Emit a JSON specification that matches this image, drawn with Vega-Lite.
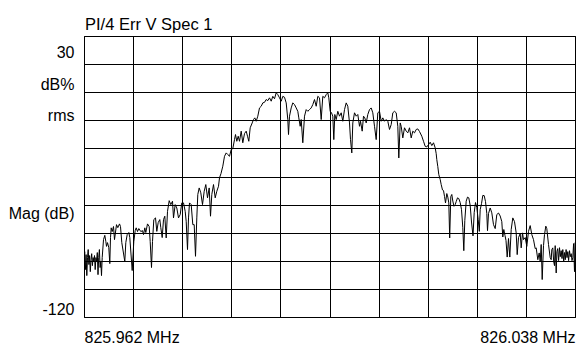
{
  "$schema": "https://vega.github.io/schema/vega-lite/v6.json",
  "width": 491,
  "height": 281,
  "autosize": {"type": "none"},
  "padding": {"left": 84, "top": 36, "right": 1, "bottom": 30},
  "background": "white",
  "title": {
    "text": "PI/4 Err V Spec 1",
    "anchor": "start",
    "frame": "group",
    "baseline": "alphabetic",
    "offset": 10,
    "dx": 1,
    "dy": 20,
    "font": "Liberation Sans, Arial, sans-serif",
    "fontSize": 16.5,
    "fontWeight": "normal",
    "color": "black"
  },
  "config": {
    "view": {"stroke": "black", "strokeWidth": 1},
    "font": "Liberation Sans, Arial, sans-serif"
  },
  "resolve": {"axis": {"x": "independent", "y": "independent"}},
  "layer": [
    {
      "data": {
        "values": [
          {"point":0,"mag":-90.4},{"point":0.7,"mag":-85.1},{"point":1.4,"mag":-94.7},{"point":2.1,"mag":-86.7},{"point":2.8,"mag":-97.9},{"point":3.5,"mag":-88.3},{"point":4.2,"mag":-84.0},{"point":4.9,"mag":-92.0},{"point":5.6,"mag":-87.2},{"point":6.3,"mag":-95.8},{"point":7.0,"mag":-89.4},{"point":7.7,"mag":-86.2},{"point":8.4,"mag":-92.6},{"point":9.1,"mag":-88.3},{"point":9.8,"mag":-90.4},{"point":10.5,"mag":-87.2},{"point":11.2,"mag":-94.7},{"point":11.9,"mag":-88.3},{"point":12.6,"mag":-90.4},{"point":13.3,"mag":-85.6},{"point":14.0,"mag":-97.4},{"point":14.7,"mag":-88.3},{"point":15.4,"mag":-84.0},{"point":16.1,"mag":-93.6},{"point":16.8,"mag":-90.4},{"point":17.5,"mag":-97.9},{"point":18.2,"mag":-88.3},
          {"point":19.5,"mag":-78.7},{"point":20.8,"mag":-76.4},{"point":21.8,"mag":-79.6},{"point":22.5,"mag":-82.3},{"point":23.5,"mag":-80.3},{"point":24.8,"mag":-83.0},{"point":25.8,"mag":-91.5},{"point":26.5,"mag":-77.6},{"point":27.2,"mag":-72.4},{"point":28.2,"mag":-74.4},{"point":29.5,"mag":-71.7},{"point":30.5,"mag":-78.7},{"point":32.5,"mag":-70.7},{"point":33.8,"mag":-72.3},{"point":35.5,"mag":-70.3},{"point":36.5,"mag":-71.7},{"point":37.8,"mag":-80.3},{"point":40.8,"mag":-90.4},{"point":41.8,"mag":-80.3},{"point":43.2,"mag":-76.0},{"point":44.8,"mag":-74.9},{"point":45.8,"mag":-77.6},{"point":48.2,"mag":-95.2},{"point":49.8,"mag":-79.7},{"point":51.2,"mag":-73.9},{"point":52.2,"mag":-72.4},{"point":53.5,"mag":-74.4},{"point":54.8,"mag":-72.8},{"point":56.8,"mag":-74.4},{"point":58.5,"mag":-73.9},{"point":59.5,"mag":-76.0},{"point":60.8,"mag":-72.4},{"point":61.8,"mag":-74.9},{"point":63.5,"mag":-70.3},{"point":65.2,"mag":-71.7},{"point":66.2,"mag":-79.7},{"point":67.5,"mag":-93.6},{"point":68.5,"mag":-79.7},{"point":69.8,"mag":-68.0},{"point":71.5,"mag":-67.1},{"point":72.8,"mag":-74.3},{"point":74.2,"mag":-69.6},{"point":75.8,"mag":-68.0},{"point":76.8,"mag":-72.3},{"point":78.2,"mag":-77.6},{"point":79.5,"mag":-68.0},{"point":80.8,"mag":-66.2},{"point":82.2,"mag":-77.8},{"point":83.5,"mag":-63.6},{"point":85.2,"mag":-57.9},{"point":86.8,"mag":-60.0},{"point":88.5,"mag":-58.2},{"point":89.5,"mag":-67.1},{"point":91.2,"mag":-60.0},{"point":92.8,"mag":-61.8},{"point":94.5,"mag":-67.1},{"point":96.2,"mag":-65.3},{"point":97.8,"mag":-59.1},{"point":99.5,"mag":-59.1},{"point":101.2,"mag":-63.6},{"point":102.2,"mag":-68.9},{"point":103.5,"mag":-84.0},{"point":104.5,"mag":-67.1},{"point":105.5,"mag":-59.1},{"point":107.2,"mag":-60.0},{"point":108.8,"mag":-70.7},{"point":110.2,"mag":-70.7},{"point":111.5,"mag":-87.6},{"point":112.8,"mag":-67.1},{"point":113.8,"mag":-54.6},{"point":115.2,"mag":-51.1},{"point":116.8,"mag":-53.7},{"point":118.5,"mag":-60.0},{"point":120.2,"mag":-52.9},{"point":121.8,"mag":-49.3},{"point":123.5,"mag":-56.4},{"point":125.2,"mag":-51.1},{"point":126.5,"mag":-66.2},{"point":127.8,"mag":-54.6},{"point":129.5,"mag":-49.3},{"point":131.2,"mag":-56.4},{"point":132.8,"mag":-52.9},{"point":134.5,"mag":-50.2},{"point":135.5,"mag":-45.7},{"point":137.0,"mag":-43.4},{"point":138.8,"mag":-39.5},{"point":140.5,"mag":-34.2},{"point":142.2,"mag":-32.4},{"point":143.8,"mag":-33.3},{"point":145.5,"mag":-34.2},{"point":147.2,"mag":-30.6},{"point":148.8,"mag":-30.1},{"point":150.5,"mag":-25.3},{"point":151.5,"mag":-22.6},{"point":152.8,"mag":-26.2},{"point":154.2,"mag":-23.5},{"point":155.5,"mag":-26.2},{"point":157.2,"mag":-20.8},{"point":158.8,"mag":-27.0},{"point":160.5,"mag":-22.1},{"point":162.2,"mag":-20.8},{"point":163.5,"mag":-23.5},{"point":164.8,"mag":-26.2},{"point":166.2,"mag":-19.0},{"point":168.2,"mag":-16.4},{"point":169.5,"mag":-14.6},{"point":170.8,"mag":-13.7},{"point":172.2,"mag":-15.5},{"point":173.8,"mag":-12.8},{"point":175.5,"mag":-8.4},{"point":177.2,"mag":-7.5},{"point":178.8,"mag":-5.7},{"point":180.5,"mag":-5.4},{"point":182.2,"mag":-3.9},{"point":183.8,"mag":-4.5},{"point":185.5,"mag":-3.0},{"point":187.2,"mag":-4.8},{"point":188.8,"mag":-2.2},{"point":190.5,"mag":-3.5},{"point":192.2,"mag":-0.3},{"point":193.8,"mag":-1.3},{"point":195.5,"mag":-3.0},{"point":197.2,"mag":-4.8},{"point":198.8,"mag":-2.2},{"point":200.5,"mag":-2.7},{"point":202.2,"mag":-5.7},{"point":203.8,"mag":-14.6},{"point":204.5,"mag":-22.6},{"point":205.5,"mag":-12.8},{"point":207.2,"mag":-8.4},{"point":208.8,"mag":-5.7},{"point":210.5,"mag":-6.6},{"point":212.2,"mag":-8.4},{"point":213.8,"mag":-10.2},{"point":214.8,"mag":-13.7},{"point":216.2,"mag":-18.2},{"point":217.2,"mag":-14.6},{"point":218.8,"mag":-27.0},{"point":220.5,"mag":-12.8},{"point":222.2,"mag":-9.3},{"point":223.8,"mag":-10.2},{"point":225.5,"mag":-9.3},{"point":227.2,"mag":-8.4},{"point":228.8,"mag":-6.6},{"point":230.5,"mag":-3.9},{"point":232.2,"mag":-7.5},{"point":233.8,"mag":-2.2},{"point":235.5,"mag":-3.0},{"point":237.2,"mag":-14.6},{"point":238.8,"mag":-2.2},{"point":240.5,"mag":-3.0},{"point":242.2,"mag":-1.3},{"point":243.8,"mag":-0.3},{"point":244.8,"mag":-3.0},{"point":246.2,"mag":-10.2},{"point":247.5,"mag":-11.0},{"point":248.8,"mag":-12.8},{"point":249.8,"mag":-25.3},{"point":250.8,"mag":-11.9},{"point":252.2,"mag":-14.6},{"point":253.8,"mag":-10.2},{"point":255.5,"mag":-12.8},{"point":257.2,"mag":-11.0},{"point":258.8,"mag":-15.5},{"point":260.5,"mag":-9.3},{"point":262.2,"mag":-5.7},{"point":263.8,"mag":-7.5},{"point":265.5,"mag":-16.4},{"point":266.5,"mag":-25.3},{"point":267.8,"mag":-32.4},{"point":268.8,"mag":-16.4},{"point":270.5,"mag":-11.0},{"point":272.2,"mag":-12.8},{"point":273.8,"mag":-11.9},{"point":275.5,"mag":-18.2},{"point":276.5,"mag":-15.5},{"point":278.2,"mag":-20.8},{"point":279.5,"mag":-12.8},{"point":280.8,"mag":-13.7},{"point":282.2,"mag":-16.4},{"point":283.8,"mag":-11.9},{"point":285.5,"mag":-9.3},{"point":287.2,"mag":-8.4},{"point":288.8,"mag":-11.0},{"point":290.5,"mag":-18.2},{"point":292.2,"mag":-25.3},{"point":293.8,"mag":-11.0},{"point":295.5,"mag":-10.2},{"point":297.2,"mag":-15.5},{"point":298.8,"mag":-13.7},{"point":300.5,"mag":-15.5},{"point":302.2,"mag":-14.6},{"point":303.8,"mag":-15.5},{"point":305.5,"mag":-19.9},{"point":307.2,"mag":-17.3},{"point":308.8,"mag":-11.0},{"point":310.5,"mag":-10.2},{"point":312.2,"mag":-11.0},{"point":313.8,"mag":-18.2},{"point":314.8,"mag":-35.1},{"point":316.2,"mag":-16.4},{"point":317.2,"mag":-18.2},{"point":318.8,"mag":-24.4},{"point":320.5,"mag":-19.0},{"point":322.2,"mag":-20.8},{"point":323.8,"mag":-21.7},{"point":325.5,"mag":-19.0},{"point":327.2,"mag":-24.4},{"point":328.8,"mag":-20.8},{"point":330.5,"mag":-21.7},{"point":332.2,"mag":-19.9},{"point":333.8,"mag":-19.6},{"point":335.5,"mag":-21.0},{"point":337.8,"mag":-23.5},{"point":339.5,"mag":-26.2},{"point":341.2,"mag":-28.9},{"point":342.8,"mag":-29.2},{"point":344.5,"mag":-28.0},{"point":346.2,"mag":-26.7},{"point":347.8,"mag":-28.5},{"point":349.5,"mag":-27.0},{"point":351.2,"mag":-29.7},{"point":352.2,"mag":-32.8},{"point":352.8,"mag":-36.0},{"point":353.8,"mag":-39.7},{"point":354.8,"mag":-44.0},{"point":356.2,"mag":-46.6},{"point":357.2,"mag":-49.3},{"point":358.5,"mag":-52.2},{"point":359.5,"mag":-52.5},{"point":360.5,"mag":-55.6},{"point":361.5,"mag":-59.1},{"point":362.8,"mag":-54.1},{"point":363.8,"mag":-56.0},{"point":364.8,"mag":-59.1},{"point":365.7,"mag":-77.8},{"point":366.8,"mag":-55.7},{"point":367.8,"mag":-54.6},{"point":368.8,"mag":-58.1},{"point":370.0,"mag":-60.9},{"point":371.2,"mag":-60.0},{"point":372.2,"mag":-58.4},{"point":373.5,"mag":-56.4},{"point":374.8,"mag":-56.8},{"point":376.2,"mag":-58.9},{"point":377.5,"mag":-62.7},{"point":378.8,"mag":-72.3},{"point":379.8,"mag":-84.6},{"point":380.8,"mag":-68.5},{"point":382.2,"mag":-58.2},{"point":383.5,"mag":-56.0},{"point":384.8,"mag":-56.4},{"point":386.2,"mag":-60.5},{"point":387.5,"mag":-69.3},{"point":389.0,"mag":-76.7},{"point":390.2,"mag":-64.3},{"point":391.5,"mag":-58.9},{"point":392.8,"mag":-61.6},{"point":394.2,"mag":-68.0},{"point":395.3,"mag":-74.3},{"point":396.2,"mag":-62.7},{"point":397.5,"mag":-59.5},{"point":398.8,"mag":-55.1},{"point":400.2,"mag":-55.2},{"point":401.5,"mag":-58.4},{"point":402.8,"mag":-64.8},{"point":403.5,"mag":-73.9},{"point":404.5,"mag":-64.8},{"point":406.2,"mag":-61.8},{"point":407.8,"mag":-64.4},{"point":409.5,"mag":-70.7},{"point":411.2,"mag":-72.8},{"point":412.8,"mag":-65.3},{"point":414.5,"mag":-64.5},{"point":416.2,"mag":-66.1},{"point":417.8,"mag":-69.1},{"point":418.8,"mag":-77.3},{"point":419.8,"mag":-73.3},{"point":421.0,"mag":-76.5},{"point":422.0,"mag":-79.2},{"point":423.2,"mag":-88.0},{"point":424.5,"mag":-78.1},{"point":425.8,"mag":-88.0},{"point":427.2,"mag":-73.3},{"point":428.8,"mag":-67.1},{"point":430.5,"mag":-69.1},{"point":432.2,"mag":-75.1},{"point":433.2,"mag":-86.7},{"point":434.5,"mag":-77.6},{"point":436.2,"mag":-75.5},{"point":437.2,"mag":-83.1},{"point":438.5,"mag":-75.1},{"point":439.5,"mag":-78.7},{"point":441.2,"mag":-77.6},{"point":442.8,"mag":-82.3},{"point":444.5,"mag":-74.3},{"point":446.2,"mag":-71.2},{"point":447.8,"mag":-76.0},{"point":449.5,"mag":-78.7},{"point":451.2,"mag":-83.5},{"point":452.2,"mag":-83.1},{"point":453.8,"mag":-89.4},{"point":455.2,"mag":-85.8},{"point":456.2,"mag":-90.4},{"point":457.2,"mag":-81.3},{"point":458.2,"mag":-100.0},{"point":459.5,"mag":-81.9},{"point":460.5,"mag":-76.0},{"point":461.8,"mag":-71.5},{"point":462.8,"mag":-72.8},{"point":464.5,"mag":-81.3},{"point":466.2,"mag":-88.3},{"point":467.2,"mag":-89.4},{"point":467.8,"mag":-84.0},{"point":468.8,"mag":-83.1},{"point":469.7,"mag":-90.4},{"point":470.5,"mag":-92.6},{"point":471.2,"mag":-81.9},{"point":472.2,"mag":-96.5},{"point":472.9,"mag":-85.1},{"point":473.7,"mag":-83.5},{"point":474.6,"mag":-89.9},{"point":475.5,"mag":-83.0},{"point":476.3,"mag":-87.8},{"point":477.2,"mag":-84.6},{"point":478.0,"mag":-88.8},{"point":478.8,"mag":-84.0},{"point":479.7,"mag":-90.4},{"point":480.5,"mag":-85.6},{"point":481.3,"mag":-89.4},{"point":482.1,"mag":-84.0},{"point":483.0,"mag":-88.3},{"point":483.8,"mag":-85.1},{"point":484.6,"mag":-89.9},{"point":485.5,"mag":-84.6},{"point":486.3,"mag":-87.8},{"point":487.2,"mag":-86.2},{"point":488.0,"mag":-89.9},{"point":488.8,"mag":-88.3},{"point":489.6,"mag":-80.8},{"point":490.5,"mag":-95.8},{"point":491.0,"mag":-80.3}
        ]
      },
      "mark": {"type": "line", "color": "black", "strokeWidth": 1, "clip": true},
      "encoding": {
        "x": {
          "field": "point",
          "type": "quantitative",
          "scale": {"domain": [0, 491], "nice": false, "zero": false},
          "axis": {
            "values": [0, 49.1, 98.2, 147.3, 196.4, 245.5, 294.6, 343.7, 392.8, 441.9, 491],
            "title": null,
            "grid": true,
            "gridColor": "black",
            "gridOpacity": 1,
            "gridWidth": 1,
            "ticks": false,
            "tickSize": 0,
            "domain": false,
            "labelExpr": "datum.value == 0 ? '825.962 MHz' : (datum.value == 491 ? '826.038 MHz' : '')",
            "labelFlush": true,
            "labelOverlap": false,
            "labelBaseline": "alphabetic",
            "labelPadding": 25,
            "labelFontSize": 16,
            "labelColor": "black"
          }
        },
        "y": {
          "field": "mag",
          "type": "quantitative",
          "scale": {"domain": [-120, 30], "nice": false, "zero": false},
          "axis": {
            "values": [30, 15, 0, -15, -30, -45, -60, -75, -90, -105, -120],
            "title": null,
            "grid": true,
            "gridColor": "black",
            "gridOpacity": 1,
            "gridWidth": 1,
            "ticks": false,
            "labels": false,
            "domain": false
          }
        }
      }
    },
    {
      "data": {
        "values": [
          {"label": "30", "mag": 18.3},
          {"label": "dB%", "mag": 1.0},
          {"label": "rms", "mag": -15.5},
          {"label": "Mag (dB)", "mag": -67.6},
          {"label": "-120", "mag": -118.7}
        ]
      },
      "mark": {"type": "text", "align": "right", "baseline": "alphabetic", "fontSize": 16, "color": "black", "clip": false},
      "encoding": {
        "x": {"datum": -9.5, "type": "quantitative", "axis": null},
        "y": {"field": "mag", "type": "quantitative", "axis": null},
        "text": {"field": "label"}
      }
    }
  ]
}
